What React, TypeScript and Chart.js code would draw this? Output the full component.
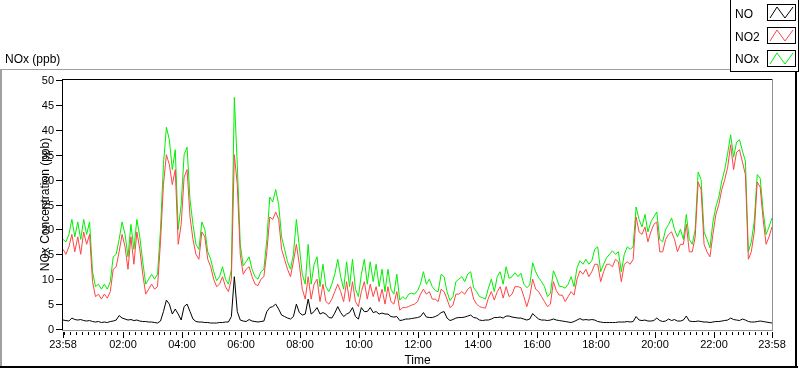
import React, { useEffect, useRef } from 'react';
import { Chart, registerables } from 'chart.js';

Chart.register(...registerables);

// Sampling interval of the series (minutes from 23:58)
const stepMinutes = 6;

// NOx (ppb)
const noxValues = [
  18, 17.5, 19, 22, 18.5, 21.5, 18, 22, 19, 21.5,
  11.5, 8.5, 9, 8, 9, 8, 9.5, 14.5, 15, 18,
  21.5, 19, 14.5, 21, 16, 22, 18.5, 13.5, 9, 10,
  11, 10, 11, 20, 33, 40.5, 38, 32, 36, 20,
  25, 35, 36.5, 26, 21, 17, 16, 21.5, 20, 15.5,
  14, 11.5, 9.7, 10.5, 12.5, 10, 9, 12, 46.5, 33,
  17, 12.7, 13.5, 14.5, 12, 10.5, 10, 11.5, 12, 18,
  26.5, 25.5, 28, 25, 18.5, 16, 13.5, 12, 15, 22,
  16.5, 11, 9, 17, 9, 13, 14.5, 8.5, 13, 8.5,
  7.5, 9, 11, 14, 10.5, 8, 13.5, 8.5, 14, 8,
  6.5, 11, 14, 9, 13.5, 9.5, 13, 8.5, 12, 7.5,
  12, 8, 7, 11, 5.8, 6.5, 6, 7, 7.2, 7,
  7.7, 9, 11.5, 9, 10, 8.5, 7.7, 7.5, 11, 10.5,
  7.5, 5.7, 6.5, 9.5, 10, 10.5, 9.5, 11, 11.5, 8.3,
  7.5, 6.5, 6.3, 6, 8.2, 10, 7.5, 10.5, 11.5, 9,
  12.5, 10.2, 10.5, 11.3, 10.5, 11.2, 9, 8.3, 8.8, 13.3,
  11.5, 10.3, 9.5, 8.5, 6.5, 7.2, 11.7, 10.3, 8.6, 8.5,
  8.2, 9, 10.5, 8.5, 12.3, 13.7, 13, 14, 13, 13.7,
  16, 16.5, 11.5, 13, 14.3, 15, 15.7, 15, 15.5, 11.5,
  15, 16.5, 16, 16.5, 24.5, 22, 20.5, 23, 19.5, 21.5,
  22.5, 23.5, 18, 17.5, 20, 21, 22.3, 20, 18.5, 20,
  18, 23, 18, 17, 20, 31.5, 30, 19.5, 18, 16.3,
  21.5, 24.5, 26.5, 29.7, 32, 35.3, 39, 34.5, 37.5, 38,
  35.7, 33.7, 15.5, 17.5, 21.7, 31, 30.3, 23.7, 19, 20.5,
  22.3,
];

// NO2 (ppb)
const no2Values = [
  16, 15, 16.5, 19, 15.5, 18.5, 15, 19.5, 17, 19,
  9.5, 6.5, 7, 6, 7, 6.2, 7.5, 12, 12.5, 15.5,
  19, 16.5, 12, 18.5, 13, 19.5, 16, 11, 7, 8,
  9, 8, 8.5, 17.5, 29, 35, 33, 29, 32, 17,
  21, 30.5, 32, 22.5, 18, 15, 14, 19.5, 18.5, 14,
  12.5, 10, 8.5, 9, 10.5, 8.5, 7.5, 10, 35, 29,
  15, 11, 12, 12.5, 10.5, 9, 8.7, 10, 10.5, 15.5,
  22.5, 22, 23.5, 22, 16, 14, 12, 10.5, 13.5, 17,
  13, 8, 6, 10.5, 6, 9, 10, 5.5, 9, 5.5,
  5, 6, 7.5, 9, 7.5, 5.5, 9.5, 5.5, 9.5, 5.5,
  4.5, 7.5, 9.5, 6, 9, 6.5, 8.5, 5.5, 8, 5,
  8.5, 5.5, 5, 7.5, 3.8, 4.3, 4.3, 4.5, 4.8, 5,
  5.5, 7, 8, 7, 7.5, 6, 6, 5.5, 8, 7.5,
  6, 4.3, 4.8, 7, 7, 7.5, 7, 8, 8.5, 6,
  5, 4.5, 4.3, 4.2, 6.2, 7.5, 5.8, 7.5, 8.5, 6.2,
  8.5, 6.5, 7, 8.5, 8.5, 8.3, 6.5, 4.5, 6.5, 10,
  8, 7.5, 6.5, 5.5, 4.5, 5, 9.5, 7.7, 6.8, 6.8,
  5.5, 6.5, 7.5, 6.8, 10, 11.7, 11, 12, 10.5, 11.5,
  13, 13, 9.5, 11.5, 13, 13, 12.5, 14, 13.5, 9.5,
  13, 13.5, 13, 14, 22.5, 19.5, 19, 20.5, 17.5, 19.5,
  21, 21.5, 15.5, 15.5, 18, 19, 19.5, 18, 15.5, 17,
  17, 21, 15.5, 15.5, 18.5, 29.5, 28, 17, 15.5, 14.5,
  19, 23, 25, 28, 30, 32.5, 37, 32, 35.5, 36,
  33.5, 31, 14, 15.5, 19.5, 29.5, 28.5, 22, 17, 18.5,
  20.5,
];

// NO (ppb)
const noValues = [
  1.8, 1.7, 1.6, 2.2, 1.9, 1.8, 1.9, 1.7, 1.6, 1.7,
  1.5, 1.4, 1.5, 1.3, 1.4, 1.3, 1.5, 1.6, 1.8, 2.7,
  2.2, 2.0, 1.8, 1.9, 1.7, 1.8, 1.6, 1.5, 1.5, 1.4,
  1.4, 1.3, 1.2, 1.6, 3.5, 5.8, 5.0, 3.0, 4.0, 3.0,
  1.8, 4.5, 5.0, 3.5, 2.0, 1.5, 1.4, 1.4, 1.3, 1.3,
  1.2, 1.2, 1.2, 1.3, 1.3, 1.4, 1.4, 2.5, 10.5, 3.5,
  1.8, 1.6, 1.5, 1.9, 1.6, 1.5, 1.4, 1.5, 1.6, 3.5,
  4.3, 4.5, 5.0, 4.0, 2.8, 2.5, 2.2, 2.0, 2.5, 5.0,
  3.3, 2.8, 3.0, 6.0, 3.0, 3.5, 4.3, 3.0, 3.3, 3.0,
  2.3, 2.2, 3.2, 4.5, 3.3, 2.5, 3.0, 3.3, 4.3, 2.5,
  2.0, 4.3, 3.5, 3.5, 4.3, 3.3, 3.5, 3.0, 3.2, 3.0,
  3.0, 2.5, 2.4, 2.5, 1.7, 1.8, 2.0, 2.0, 2.1, 2.2,
  2.3, 2.5, 3.3, 2.4, 2.3, 2.3, 2.5, 2.8, 3.3, 3.5,
  2.2, 1.7, 1.9, 2.2, 2.3, 2.3, 2.4, 2.6, 2.8, 2.3,
  2.2, 1.8, 1.7, 1.8, 1.8, 2.0, 2.3, 2.3, 2.4, 2.2,
  2.6, 2.6, 2.4, 2.3, 2.2, 2.2, 2.0, 1.8, 2.0, 3.1,
  2.5, 2.0, 1.8, 1.8, 1.7, 1.8, 2.0, 1.8, 1.7, 1.6,
  1.5, 1.4, 1.3, 1.5, 1.8, 2.1, 1.8, 1.9, 1.8, 1.9,
  1.8, 1.5, 1.4, 1.3, 1.3, 1.3, 1.3, 1.3, 1.4, 1.4,
  1.4, 1.5, 1.4, 1.5, 2.5, 1.8, 1.7, 1.8, 1.6, 1.6,
  1.7, 2.2, 1.7, 1.5, 1.6, 2.0, 1.7, 1.9, 1.6, 1.6,
  1.8, 2.6, 1.6, 1.5, 1.5, 1.6, 1.5, 1.4, 1.4, 1.3,
  1.4, 1.5, 1.5, 1.6, 1.7, 1.8, 2.2, 1.9, 1.8, 1.7,
  2.0, 1.8, 1.5, 1.4, 1.4, 1.5, 1.6, 1.5, 1.4, 1.3,
  1.2,
];

const yTickValues = [0, 5, 10, 15, 20, 25, 30, 35, 40, 45, 50];
const xTickMinutes = [0, 122, 242, 362, 482, 602, 722, 842, 962, 1082, 1202, 1322, 1440];
const xTickLabels = ['23:58', '02:00', '04:00', '06:00', '08:00', '10:00', '12:00', '14:00', '16:00', '18:00', '20:00', '22:00', '23:58'];
const minorTickStep = 12;
const legendLabels = ['NO', 'NO2', 'NOx'];
const seriesColors = ['#000000', '#ff4444', '#00f000'];

const chartTitle = 'NOx (ppb)';
const yAxisTitle = 'NOx Concentration (ppb)';
const xAxisTitle = 'Time';

const FONT = '"Liberation Sans", Arial, sans-serif';

const toPoints = (vals: number[]) => vals.map((v, i) => ({ x: i * stepMinutes, y: v }));

const decorPlugin = {
  id: 'decor',
  beforeDraw(chart: any) {
    const ctx = chart.ctx;
    ctx.save();
    ctx.fillStyle = '#ffffff';
    ctx.fillRect(0, 0, chart.width, chart.height);
    ctx.restore();
  },
  afterDraw(chart: any) {
    const ctx = chart.ctx as CanvasRenderingContext2D;
    const a = chart.chartArea;
    const xs = chart.scales.x;
    const ys = chart.scales.y;
    ctx.save();

    // outer panel frame
    ctx.fillStyle = '#a0a0a0';
    ctx.fillRect(0, 69, 730, 1);
    ctx.fillRect(0, 69, 2, 299);
    ctx.fillStyle = '#000000';
    ctx.fillRect(0, 366, 798, 2);
    ctx.fillRect(795, 72, 2, 296);

    // legend box
    ctx.fillStyle = '#000000';
    ctx.fillRect(730, 0, 1, 72);
    ctx.fillRect(730, 71, 69, 1);
    ctx.fillRect(798, 0, 1, 72);

    ctx.font = `12px ${FONT}`;
    ctx.textAlign = 'left';
    ctx.textBaseline = 'alphabetic';
    const legendBaselines = [18, 41, 63];
    const swatchTops = [4, 27, 50];
    legendLabels.forEach((lab, k) => {
      ctx.fillStyle = '#000000';
      ctx.fillText(lab, 735, legendBaselines[k]);
      const sx = 767, sy = swatchTops[k], sw = 29, sh = 17;
      ctx.fillStyle = '#000000';
      ctx.fillRect(sx, sy, sw, 1);
      ctx.fillRect(sx, sy + sh - 1, sw, 1);
      ctx.fillRect(sx, sy, 1, sh);
      ctx.fillRect(sx + sw - 1, sy, 1, sh);
      ctx.strokeStyle = seriesColors[k];
      ctx.lineWidth = 1;
      ctx.beginPath();
      ctx.moveTo(sx + 3, sy + sh - 3);
      ctx.lineTo(sx + 10, sy + 3);
      ctx.lineTo(sx + 18, sy + sh - 3);
      ctx.lineTo(sx + 26, sy + 3);
      ctx.stroke();
    });

    // chart title
    ctx.fillStyle = '#000000';
    ctx.font = `12px ${FONT}`;
    ctx.fillText(chartTitle, 5, 63);

    // plot border
    ctx.fillStyle = '#000000';
    ctx.fillRect(a.left - 1, a.top - 1, a.right - a.left + 1, 1);
    ctx.fillRect(a.left - 1, a.top - 1, 1, a.bottom - a.top + 2);
    ctx.fillStyle = '#909090';
    ctx.fillRect(a.right, a.top - 1, 1, a.bottom - a.top + 3);
    ctx.fillRect(a.left - 1, a.bottom + 1, a.right - a.left + 2, 1);

    // y ticks
    ctx.fillStyle = '#000000';
    ctx.font = `11px ${FONT}`;
    ctx.textAlign = 'right';
    ctx.textBaseline = 'middle';
    yTickValues.forEach((v) => {
      const y = Math.round(ys.getPixelForValue(v));
      ctx.fillRect(a.left - 7, y, 6, 1);
      ctx.fillText(String(v), a.left - 9, y + 0.5);
    });

    // x ticks
    const maxMin = xTickMinutes[xTickMinutes.length - 1];
    const minors: number[] = [];
    for (let m = xTickMinutes[1]; m > 0; m -= minorTickStep) minors.push(m);
    for (let m = xTickMinutes[1]; m < maxMin; m += minorTickStep) minors.push(m);
    minors.forEach((m) => {
      const x = Math.round(xs.getPixelForValue(m));
      ctx.fillRect(x, a.bottom + 3, 1, 3);
    });
    ctx.textAlign = 'center';
    ctx.textBaseline = 'alphabetic';
    xTickMinutes.forEach((m, k) => {
      const x = Math.round(xs.getPixelForValue(m));
      ctx.fillRect(x, a.bottom + 3, 1, 6);
      ctx.fillText(xTickLabels[k], x, a.bottom + 19);
    });

    // axis titles
    ctx.font = `12px ${FONT}`;
    ctx.textAlign = 'center';
    ctx.fillText(xAxisTitle, (a.left + a.right) / 2, 364);
    ctx.save();
    ctx.translate(49, (a.top + a.bottom) / 2);
    ctx.rotate(-Math.PI / 2);
    ctx.textBaseline = 'alphabetic';
    ctx.fillText(yAxisTitle, 0, 0);
    ctx.restore();

    ctx.restore();
  },
};

export default function App() {
  const canvasRef = useRef<HTMLCanvasElement | null>(null);

  useEffect(() => {
    const canvas = canvasRef.current;
    if (!canvas) return;
    const chart = new Chart(canvas, {
      type: 'line',
      data: {
        datasets: [
          {
            label: legendLabels[0],
            data: toPoints(noValues),
            borderColor: seriesColors[0],
            borderWidth: 1,
            pointRadius: 0,
            tension: 0,
            order: 0,
          },
          {
            label: legendLabels[1],
            data: toPoints(no2Values),
            borderColor: seriesColors[1],
            borderWidth: 1,
            pointRadius: 0,
            tension: 0,
            order: 1,
          },
          {
            label: legendLabels[2],
            data: toPoints(noxValues),
            borderColor: seriesColors[2],
            borderWidth: 1,
            pointRadius: 0,
            tension: 0,
            order: 2,
          },
        ],
      },
      options: {
        responsive: false,
        animation: false,
        devicePixelRatio: 1,
        layout: { padding: { left: 63, right: 28, top: 80, bottom: 40 } },
        scales: {
          x: { type: 'linear', min: 0, max: 1440, display: false },
          y: { type: 'linear', min: 0, max: 50, display: false },
        },
        plugins: {
          legend: { display: false },
          tooltip: { enabled: false },
        },
        events: [],
      },
      plugins: [decorPlugin],
    });
    return () => chart.destroy();
  }, []);

  return (
    <div style={{ position: 'fixed', left: 0, top: 0, width: 800, height: 369, background: '#fff' }}>
      <canvas ref={canvasRef} width={800} height={369} style={{ display: 'block', width: 800, height: 369 }} />
    </div>
  );
}
